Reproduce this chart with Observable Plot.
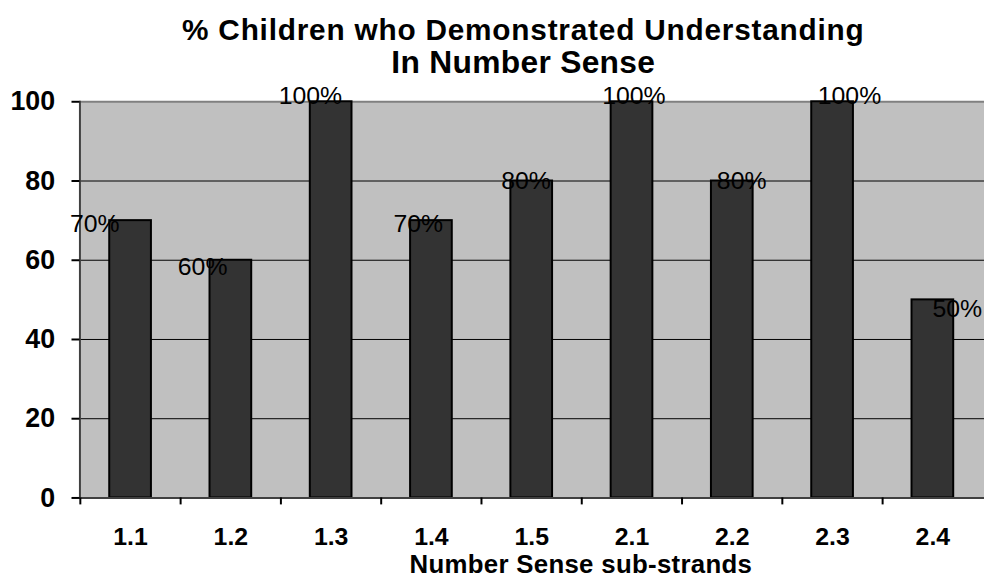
<!DOCTYPE html>
<html>
<head>
<meta charset="utf-8">
<script src="https://cdn.jsdelivr.net/npm/d3@7"></script>
<script src="https://cdn.jsdelivr.net/npm/@observablehq/plot@0.6"></script>
<style>
  html, body { margin: 0; padding: 0; background: white; }
  #wrap { width: 984px; height: 581px; overflow: hidden; position: relative; }
</style>
</head>
<body>
<div id="wrap"></div>
<script>
const categories = ["1.1", "1.2", "1.3", "1.4", "1.5", "2.1", "2.2", "2.3", "2.4"];
const percents = [70, 60, 100, 70, 80, 100, 80, 100, 50];
const yTicks = [0, 20, 40, 60, 80, 100];
const gridValues = [20, 40, 60, 80];
const titleLines = ["% Children who Demonstrated Understanding", "In Number Sense"];
const xTitle = "Number Sense sub-strands";

const data = categories.map((c, i) => ({cat: c, value: percents[i]}));
const font = "'Liberation Sans', Arial, sans-serif";

// data labels in the reference sit on a slightly enlarged copy of the plot
function labelLayer(index, scales, values, dimensions, context, next) {
  const bw = scales.x.bandwidth ? scales.x.bandwidth() / 2 : 0;
  const k = 1.075, ox = 611, oy = 175;
  const X = Float64Array.from(values.x, x => ox + k * (x + bw - ox) - bw);
  const Y = Float64Array.from(values.y, y => oy + k * (y - oy));
  return next(index, scales, {...values, x: X, y: Y}, dimensions, context);
}

const chart = Plot.plot({
  width: 991,
  height: 581,
  marginLeft: 80,
  marginRight: 0,
  marginTop: 102,
  marginBottom: 80,
  style: {fontFamily: font, background: "white", color: "black", overflow: "visible"},
  x: {domain: categories, paddingInner: 0.58, paddingOuter: 0.29, label: null},
  y: {domain: [0, 100], label: null},
  marks: [
    Plot.frame({fill: "#c0c0c0", stroke: null}),
    Plot.ruleY(gridValues, {stroke: "black", strokeWidth: 1}),
    Plot.ruleY([100], {stroke: "#808080", strokeWidth: 2}),
    Plot.barY(data, {x: "cat", y: "value", fill: "#333333", stroke: "black", strokeWidth: 2}),
    Plot.ruleY([0], {stroke: "#404040", strokeWidth: 2}),
    Plot.frame({anchor: "left", stroke: "#404040", strokeWidth: 2}),
    Plot.axisY({ticks: yTicks, tickSize: 8, tickPadding: 17, fontSize: 27, fontWeight: "bold", label: null, stroke: "black", strokeWidth: 2}),
    Plot.axisX({tickSize: 7, dx: -50.6, tickFormat: () => "", label: null, stroke: "black", strokeWidth: 2}),
    Plot.axisX({tickSize: 0, tickPadding: 30, fontSize: 25, fontWeight: "bold", label: null}),
    Plot.text(data, {x: "cat", y: "value", text: d => d.value + "%", fontSize: 25, fill: "black", render: labelLayer})
  ]
});

const svg = d3.select(chart);
svg.append("text")
  .attr("x", 527).attr("y", 40)
  .attr("text-anchor", "middle")
  .style("font", `bold 30px ${font}`)
  .style("letter-spacing", "0.8px")
  .text(titleLines[0]);
svg.append("text")
  .attr("x", 527).attr("y", 74)
  .attr("text-anchor", "middle")
  .style("font", `bold 32px ${font}`)
  .style("letter-spacing", "0.3px")
  .text(titleLines[1]);
svg.append("text")
  .attr("x", 585).attr("y", 577)
  .attr("text-anchor", "middle")
  .style("font", `bold 26px ${font}`)
  .style("letter-spacing", "0.3px")
  .text(xTitle);

document.getElementById("wrap").appendChild(chart);
</script>
</body>
</html>
